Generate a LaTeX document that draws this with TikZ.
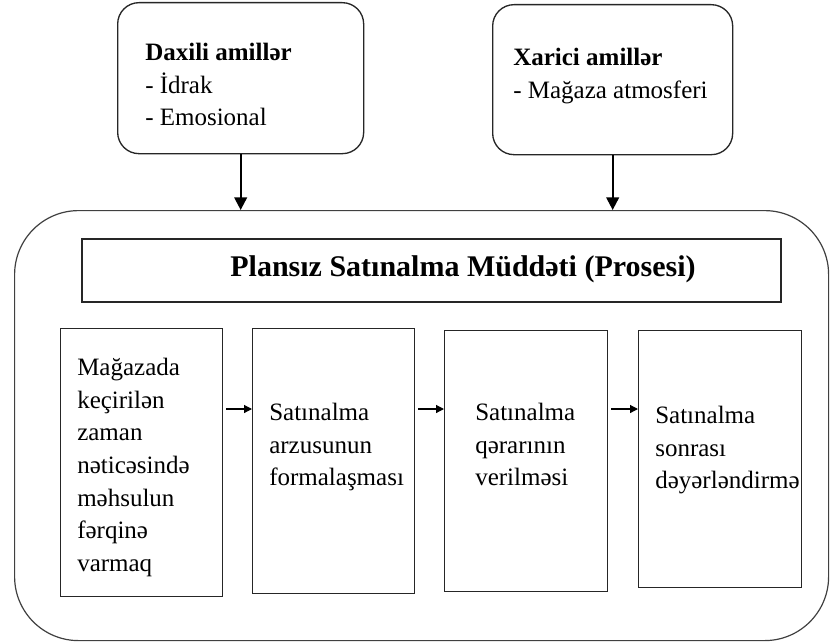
\documentclass[tikz,border=0pt]{standalone}
\usepackage{fontspec}
\setmainfont{Liberation Serif}
\usetikzlibrary{arrows.meta,positioning,calc}

\tikzset{%
    factor_box/.style={%
        rectangle, rounded corners=16pt, draw=black!85, line width=1pt, anchor=north west
    },
    frame_box/.style={%
        rectangle, rounded corners=48pt, draw=black!75, line width=0.9pt, anchor=north west
    },
    title_box/.style={%
        rectangle, draw=black!85, line width=1pt, minimum width=524.25pt, minimum height=47.25pt
    },
    stage_box/.style={%
        rectangle, draw=black!85, line width=1pt, minimum width=121.5pt, anchor=north west
    },
    txt/.style={%
        anchor=north west, inner sep=0pt, align=left, font=\fontsize{18.75}{24.5}\selectfont
    },
    title_txt/.style={%
        anchor=base, inner sep=0pt, font=\fontsize{22.5}{27}\selectfont\bfseries
    },
    down_arrow/.style={%
        -{Triangle[length=9.5pt,width=9.5pt]}, line width=1.6pt
    },
    step_arrow/.style={%
        -{Triangle[length=6pt,width=6pt]}, line width=0.9pt, shorten <=2pt
    },
}

\begin{document}
\begin{tikzpicture}[x=0.75pt, y=-0.75pt]

    \useasboundingbox (0,0) rectangle (830,642);

    \node[factor_box, minimum width=184.5pt, minimum height=113.25pt] (internal) at (117,2) {};
    \node[txt] (internal_txt) at (145,43) {\textbf{Daxili amillər}\\- İdrak\\- Emosional};

    \node[factor_box, minimum width=180pt, minimum height=112.5pt] (external) at (492,4) {};
    \node[txt] (external_txt) at (513,48) {\textbf{Xarici amillər}\\- Mağaza atmosferi};

    \node[frame_box, minimum width=610.5pt, minimum height=322.5pt] (process) at (14,210) {};

    \draw[down_arrow] (internal.south) -- (internal.south |- process.north);
    \draw[down_arrow] (external.south) -- (external.south |- process.north);

    \node[title_box] (title) at (431.5,270.5) {};
    \node[title_txt] (title_label) at (463,276) {Plansız Satınalma Müddəti (Prosesi)};

    \begin{scope}
      \node[stage_box, minimum height=201pt] (notice) at (60,328) {};
      \node[txt] (notice_txt) at (77,358) {Mağazada\\keçirilən\\zaman\\nəticəsində\\məhsulun\\fərqinə\\varmaq};

      \node[stage_box, minimum height=198.75pt] (desire) at (252,328) {};
      \node[txt] (desire_txt) at (269,403) {Satınalma\\arzusunun\\formalaşması};

      \node[stage_box, minimum width=122.25pt, minimum height=195.75pt] (decision) at (444,330) {};
      \node[txt] (decision_txt) at (475,403) {Satınalma\\qərarının\\verilməsi};

      \node[stage_box, minimum width=122.25pt, minimum height=192.75pt] (evaluation) at (638,330) {};
      \node[txt] (evaluation_txt) at (655,406) {Satınalma\\sonrası\\dəyərləndirmə};
    \end{scope}

    \coordinate (row) at (0,409);
    \draw[step_arrow] (notice.east |- row) -- (desire.west |- row);
    \draw[step_arrow] (desire.east |- row) -- (decision.west |- row);
    \draw[step_arrow] (decision.east |- row) -- (evaluation.west |- row);

\end{tikzpicture}
\end{document}
